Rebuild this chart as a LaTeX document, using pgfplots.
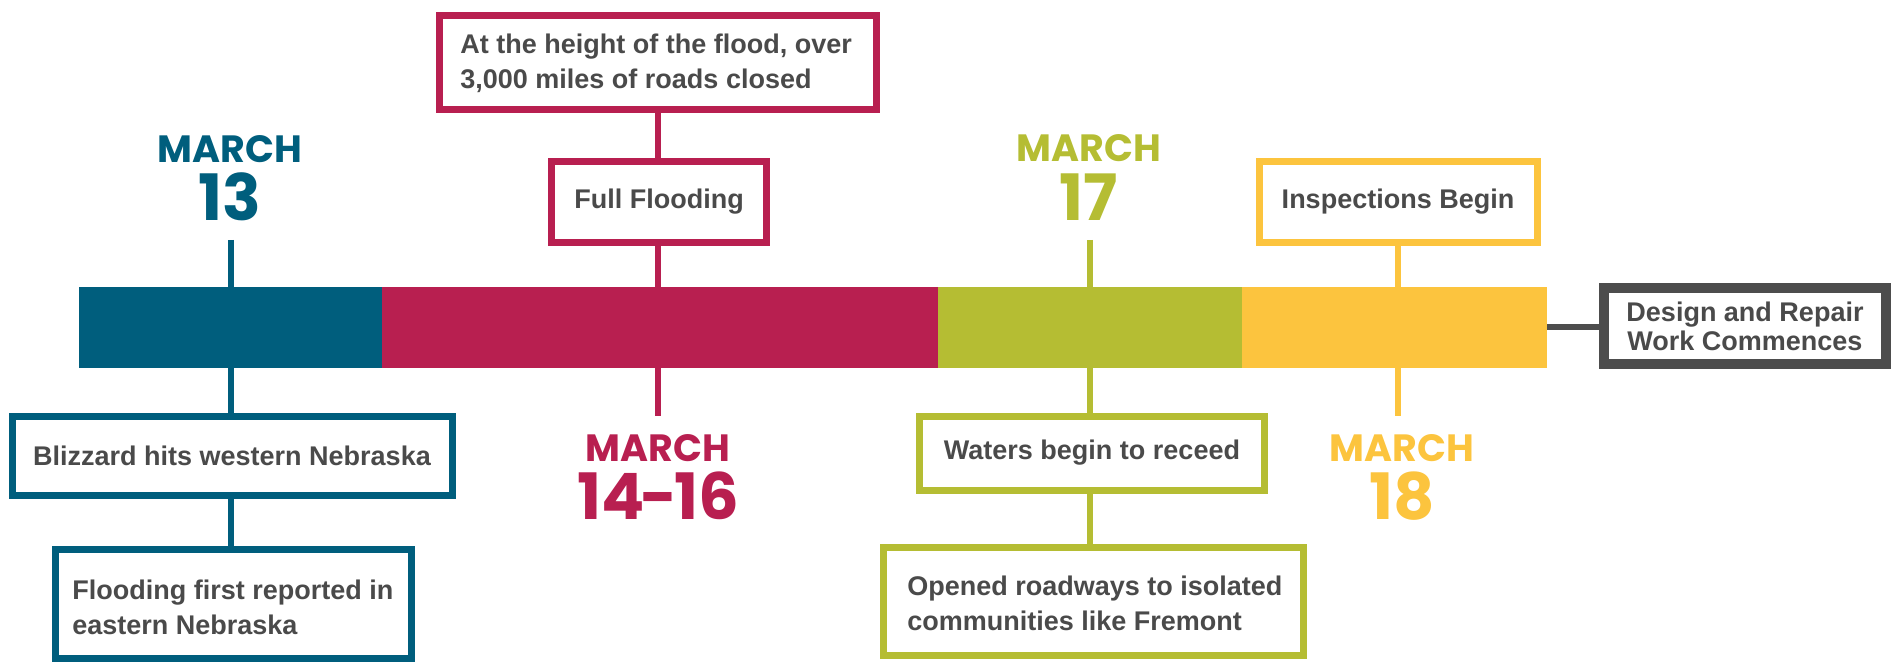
\documentclass[border=0pt]{standalone}
\usepackage{pgfplots}
\pgfplotsset{compat=1.18}
\usepackage{fontspec}
\setmainfont{Liberation Sans}
\newfontfamily\datefont{Poppins}
\definecolor{cteal}{HTML}{005E7D}
\definecolor{ccrim}{HTML}{B81F50}
\definecolor{colive}{HTML}{B5BD33}
\definecolor{cyell}{HTML}{FCC43E}
\definecolor{cgray}{HTML}{4D4D4D}
\definecolor{ctext}{HTML}{4A4A4A}
\begin{document}
\begin{tikzpicture}
\begin{axis}[width=948.5pt, height=331pt, scale only axis,
  xmin=0, xmax=1897, ymin=0, ymax=662, y dir=reverse,
  hide axis, clip=false]
% timeline bar segments
\addplot[fill=cteal, draw=none] coordinates {(79,287)(382,287)(382,368)(79,368)} -- cycle;
\addplot[fill=ccrim, draw=none] coordinates {(382,287)(938,287)(938,368)(382,368)} -- cycle;
\addplot[fill=colive, draw=none] coordinates {(938,287)(1242,287)(1242,368)(938,368)} -- cycle;
\addplot[fill=cyell, draw=none] coordinates {(1242,287)(1547,287)(1547,368)(1242,368)} -- cycle;
% connectors
\addplot[cteal, line width=3pt] coordinates {(231,240)(231,287)};
\addplot[cteal, line width=3pt] coordinates {(231,368)(231,546)};
\addplot[ccrim, line width=3pt] coordinates {(658,113)(658,287)};
\addplot[ccrim, line width=3pt] coordinates {(658,368)(658,416)};
\addplot[colive, line width=3pt] coordinates {(1090,240)(1090,287)};
\addplot[colive, line width=3pt] coordinates {(1090,368)(1090,544)};
\addplot[cyell, line width=3pt] coordinates {(1398,246)(1398,287)};
\addplot[cyell, line width=3pt] coordinates {(1398,368)(1398,416)};
\addplot[cgray, line width=3pt] coordinates {(1547,327)(1599,327)};
% boxes
\addplot[draw=ccrim, fill=white, line width=3.5pt] coordinates {(439.5,15.5)(876.5,15.5)(876.5,109.5)(439.5,109.5)} -- cycle;
\addplot[draw=ccrim, fill=white, line width=3.5pt] coordinates {(551.5,161.5)(766.5,161.5)(766.5,242.5)(551.5,242.5)} -- cycle;
\addplot[draw=cteal, fill=white, line width=3.5pt] coordinates {(12.5,416.5)(452.5,416.5)(452.5,495.5)(12.5,495.5)} -- cycle;
\addplot[draw=cteal, fill=white, line width=3.5pt] coordinates {(55.5,549.5)(411.5,549.5)(411.5,658.5)(55.5,658.5)} -- cycle;
\addplot[draw=colive, fill=white, line width=3.5pt] coordinates {(919.5,416.5)(1264.5,416.5)(1264.5,490.5)(919.5,490.5)} -- cycle;
\addplot[draw=colive, fill=white, line width=3.5pt] coordinates {(883.5,547.5)(1303.5,547.5)(1303.5,655.5)(883.5,655.5)} -- cycle;
\addplot[draw=cyell, fill=white, line width=3.5pt] coordinates {(1259.5,161.5)(1537.5,161.5)(1537.5,242.5)(1259.5,242.5)} -- cycle;
\addplot[draw=cgray, fill=white, line width=5pt] coordinates {(1604,288)(1886,288)(1886,364)(1604,364)} -- cycle;
% texts
\tikzset{bt/.style={font=\fontsize{13.5pt}{17.5pt}\selectfont\bfseries, text=ctext, inner sep=0pt}}
\node[bt, anchor=west, align=left] at (axis cs:460,63) {At the height of the flood, over\\3,000 miles of roads closed};
\node[bt] at (axis cs:659,202) {Full Flooding};
\node[bt] at (axis cs:232,456) {Blizzard hits western Nebraska};
\node[bt, anchor=west, align=left] at (axis cs:72,607) {Flooding first reported in\\eastern Nebraska};
\node[bt] at (axis cs:1092,453) {Waters begin to receed};
\node[bt, anchor=west, align=left] at (axis cs:907,603) {Opened roadways to isolated\\communities like Fremont};
\node[bt] at (axis cs:1398,202) {Inspections Begin};
\node[bt, align=center, font=\fontsize{13.5pt}{14.5pt}\selectfont\bfseries] at (axis cs:1745,326) {Design and Repair\\Work Commences};
% dates
\tikzset{dm/.style={font=\datefont\bfseries\fontsize{19pt}{19pt}\selectfont, inner sep=0pt},
         dd/.style={font=\datefont\bfseries\fontsize{32pt}{32pt}\selectfont, inner sep=0pt}}
\node[dm, text=cteal] at (axis cs:230,149) {MARCH};
\node[dd, text=cteal] at (axis cs:230,197) {13};
\node[dm, text=ccrim] at (axis cs:658,448) {MARCH};
\node[dd, text=ccrim] at (axis cs:658,496) {14\kern-0.06em-\kern-0.06em16};
\node[dm, text=colive] at (axis cs:1089,148) {MARCH};
\node[dd, text=colive] at (axis cs:1089,197) {17};
\node[dm, text=cyell] at (axis cs:1402,448) {MARCH};
\node[dd, text=cyell] at (axis cs:1402,496) {18};
\end{axis}
\path (current axis.south west) rectangle (current axis.north east);
\end{tikzpicture}
\end{document}
